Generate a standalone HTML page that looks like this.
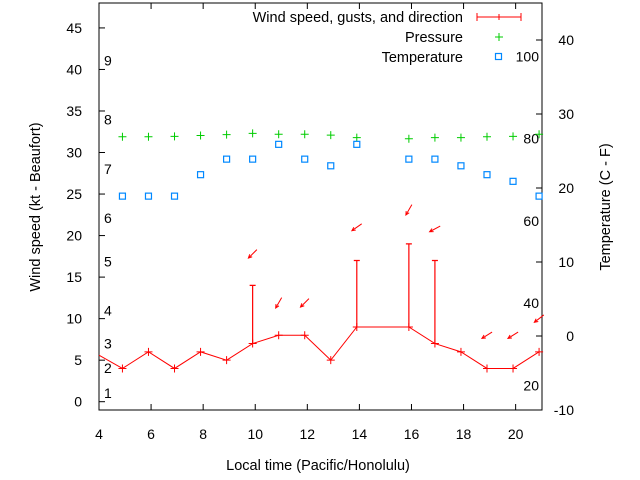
<!DOCTYPE html>
<html><head><meta charset="utf-8"><style>
body{margin:0;background:#fff}
svg{display:block;font-family:"Liberation Sans",sans-serif}
</style></head><body>
<svg id="chart" width="640" height="480" viewBox="0 0 640 480">
<rect x="99" y="3" width="443" height="407" fill="none" stroke="#000" stroke-width="1"/>
<g id="axes"></g>
<g id="series"></g>
<text x="40" y="207" font-size="14.5" text-anchor="middle" transform="rotate(-90 40 207)">Wind speed (kt - Beaufort)</text>
<text x="610" y="207" font-size="14.5" text-anchor="middle" transform="rotate(-90 610 207)">Temperature (C - F)</text>
<text x="318" y="470" font-size="14.5" text-anchor="middle">Local time (Pacific/Honolulu)</text>
<g font-size="14.5">
<text x="463" y="22" text-anchor="end">Wind speed, gusts, and direction</text>
<path d="M477 17H521M477 13V21M521 13V21M499 14V20" stroke="#f00" fill="none"/>
<text x="463" y="42" text-anchor="end">Pressure</text>
<path d="M495 37H503M499 33V41" stroke="#0c0"/>
<text x="463" y="62" text-anchor="end">Temperature</text>
<rect x="495.5" y="53.5" width="6" height="6" fill="none" stroke="#08f" stroke-width="1.2"/>
</g>
</svg>
<script>
const hours=[4.9,5.9,6.9,7.9,8.9,9.9,10.9,11.9,12.9,13.9,15.9,16.9,17.9,18.9,19.9,20.9];
const windSpeed=[4,6,4,6,5,7,8,8,5,9,9,7,6,4,4,6];
const gustHours=[9.9,13.9,15.9,16.9];
const gustSpeed=[14,17,19,17];
const pressure=[31.9,31.9,31.95,32.05,32.15,32.3,32.2,32.2,32.1,31.8,31.65,31.8,31.8,31.9,31.95,32.2];
const tempC=[18.9,18.9,18.9,21.8,23.9,23.9,25.9,23.9,23.0,25.9,23.9,23.9,23.0,21.8,20.9,18.9];
const arrowHours=[9.9,10.9,11.9,13.9,15.9,16.9,18.9,19.9,20.9];
const arrowY=[17.8,11.9,11.9,21,23.1,20.8,8,8,10];
const arrowDir=[45,30,45,55,30,62,58,58,52];
const xTicks=[4,6,8,10,12,14,16,18,20];
const yTicks=[0,5,10,15,20,25,30,35,40,45];
const cTicks=[-10,0,10,20,30,40];
const fTicks=[20,40,60,80,100];
const beaufortLabels=[1,2,3,4,5,6,7,8,9];
const beaufortKt=[1.05,4.05,7,11,16.9,22.1,28,34,41.1];

const X=h=>99+(h-4)*26.04;
const Y=v=>410-(v+1)*8.306;
const YC=c=>410-(c+10)*7.4;
const NS='http://www.w3.org/2000/svg';
const ax=document.getElementById('axes'),se=document.getElementById('series');
function mk(p,tag,attrs){const e=document.createElementNS(NS,tag);for(const k in attrs)e.setAttribute(k,attrs[k]);p.appendChild(e);return e;}
xTicks.forEach(t=>{
 const l=mk(ax,'path',{d:`M${X(t)} 410v-6M${X(t)} 3v6`,stroke:'#000'});
 
 
 const tx=mk(ax,'text',{x:X(t),y:439,'font-size':14,'text-anchor':'middle'});tx.textContent=t;
 
 
});
yTicks.forEach(t=>{
 const l=mk(ax,'path',{d:`M99 ${Y(t)}h6`,stroke:'#000'});
 
 
 const tx=mk(ax,'text',{x:82,y:Y(t)+5,'font-size':14,'text-anchor':'end'});tx.textContent=t;
 
 
});
cTicks.forEach(t=>{
 const l=mk(ax,'path',{d:`M542 ${YC(t)}h-6`,stroke:'#000'});
 
 
 const tx=mk(ax,'text',{x:574,y:YC(t)+5,'font-size':14,'text-anchor':'end'});tx.textContent=t;
 
 
});
fTicks.forEach(t=>{
 const tx=mk(ax,'text',{x:539,y:YC((t-32)*5/9)+5,'font-size':14,'text-anchor':'end'});tx.textContent=t;
 
 
});
beaufortLabels.forEach((b,i)=>{
 const tx=mk(ax,'text',{x:104,y:Y(beaufortKt[i])+5,'font-size':14});tx.textContent=b;
 
 
});
let d=`M99 ${Y(5.6)}`;hours.forEach((h,i)=>d+=`L${X(h)} ${Y(windSpeed[i])}`);
const wl=mk(se,'path',{d,stroke:'#f00',fill:'none'});


hours.forEach((h,i)=>{
 const p=mk(se,'path',{d:`M${X(h)-4} ${Y(windSpeed[i])}h8M${X(h)} ${Y(windSpeed[i])-4}v8`,stroke:'#f00'});
 
 
});
gustHours.forEach((h,i)=>{
 const ws=windSpeed[hours.indexOf(h)];
 const g=mk(se,'path',{d:`M${X(h)} ${Y(ws)}V${Y(gustSpeed[i])}M${X(h)-3} ${Y(gustSpeed[i])}h6`,stroke:'#f00','stroke-width':1.2});
 
 
});
arrowHours.forEach((h,i)=>{
 const a=arrowDir[i]*Math.PI/180,L=6;
 const dx=Math.sin(a)*L,dy=-Math.cos(a)*L;
 const cx=X(h),cy=Y(arrowY[i]);
 const tx=cx+dx,ty=cy+dy,hx=cx-dx,hy=cy-dy;
 const ang=Math.atan2(hy-ty,hx-tx);
 const b1x=hx-4*Math.cos(ang-0.45),b1y=hy-4*Math.sin(ang-0.45);
 const b2x=hx-4*Math.cos(ang+0.45),b2y=hy-4*Math.sin(ang+0.45);
 const ar=mk(se,'path',{d:`M${tx} ${ty}L${hx} ${hy}M${b1x} ${b1y}L${hx} ${hy}L${b2x} ${b2y}`,stroke:'#f00',fill:'none'});
 
 
});
hours.forEach((h,i)=>{
 const p=mk(se,'path',{d:`M${X(h)-4} ${Y(pressure[i])}h8M${X(h)} ${Y(pressure[i])-4}v8`,stroke:'#0c0'});
 
 
});
hours.forEach((h,i)=>{
 const r=mk(se,'rect',{x:X(h)-3,y:YC(tempC[i])-3,width:6,height:6,fill:'none',stroke:'#08f','stroke-width':1.2});
 
 
});
</script>
</body></html>
